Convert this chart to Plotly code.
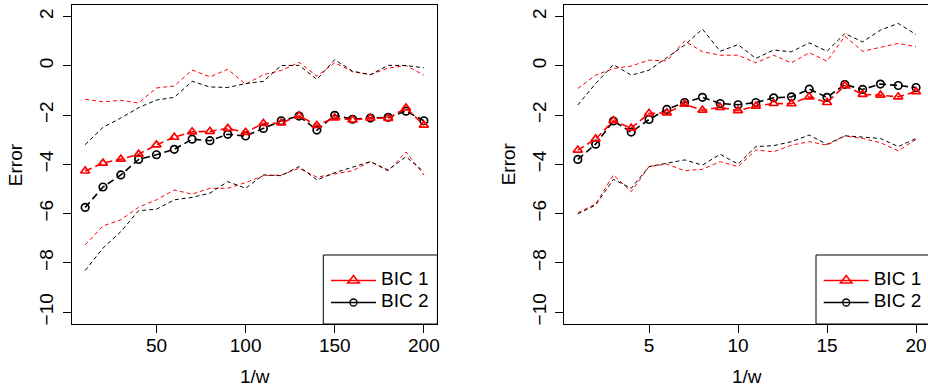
import plotly.graph_objects as go

# ---------------- data ----------------
x_left = [10, 20, 30, 40, 50, 60, 70, 80, 90, 100,
          110, 120, 130, 140, 150, 160, 170, 180, 190, 200]
bic1_left = [-4.27, -3.95, -3.79, -3.59, -3.21, -2.90, -2.68, -2.66, -2.54, -2.70,
             -2.34, -2.32, -2.03, -2.42, -2.11, -2.20, -2.12, -2.13, -1.71, -2.41]
bic2_left = [-5.75, -4.92, -4.43, -3.80, -3.61, -3.39, -2.98, -3.04, -2.78, -2.85,
             -2.54, -2.23, -2.04, -2.61, -2.01, -2.17, -2.12, -2.09, -1.84, -2.23]
bic1_left_hi = [-1.36, -1.46, -1.40, -1.51, -0.90, -0.82, -0.17, -0.45, -0.14, -0.75,
                -0.36, -0.19, 0.14, -0.42, 0.13, -0.24, -0.36, -0.09, 0.01, -0.38]
bic2_left_hi = [-3.20, -2.50, -2.12, -1.70, -1.39, -1.28, -0.63, -0.86, -0.88, -0.72,
                -0.63, 0.01, 0.02, -0.55, 0.25, -0.22, -0.36, 0.02, 0.01, -0.08]
bic1_left_lo = [-7.27, -6.50, -6.25, -5.74, -5.44, -5.04, -5.21, -4.97, -4.97, -4.74,
                -4.46, -4.43, -4.16, -4.52, -4.39, -4.26, -3.89, -4.27, -3.50, -4.43]
bic2_left_lo = [-8.31, -7.40, -6.73, -5.88, -5.82, -5.44, -5.34, -5.17, -4.70, -4.97,
                -4.43, -4.46, -4.09, -4.63, -4.34, -4.13, -3.89, -4.23, -3.69, -4.30]

x_right = list(range(1, 21))
bic1_right = [-3.42, -2.97, -2.23, -2.53, -1.93, -1.91, -1.56, -1.80, -1.69, -1.82,
              -1.64, -1.53, -1.54, -1.26, -1.49, -0.81, -1.16, -1.19, -1.26, -1.05]
bic2_right = [-3.80, -3.18, -2.24, -2.69, -2.18, -1.77, -1.49, -1.28, -1.53, -1.58,
              -1.49, -1.30, -1.26, -0.95, -1.28, -0.76, -0.96, -0.74, -0.80, -0.88]
bic1_right_hi = [-0.92, -0.38, -0.11, -0.01, 0.23, 0.20, 1.01, 0.57, 0.43, 0.43,
                 0.12, 0.43, 0.12, 0.53, 0.19, 1.20, 0.59, 0.74, 0.91, 0.77]
bic2_right_hi = [-1.59, -0.72, 0.05, -0.38, -0.18, 0.34, 0.84, 1.49, 0.59, 0.86,
                 0.30, 0.64, 0.57, 0.93, 0.59, 1.31, 0.97, 1.45, 1.72, 1.27]
bic1_right_lo = [-5.96, -5.61, -4.43, -5.11, -4.09, -3.99, -4.26, -4.20, -3.89, -4.09,
                 -3.42, -3.49, -3.22, -3.08, -3.22, -2.85, -2.95, -3.12, -3.45, -2.99]
bic2_right_lo = [-6.01, -5.65, -4.61, -4.97, -4.09, -3.96, -3.82, -4.03, -3.59, -3.99,
                 -3.28, -3.24, -3.08, -2.81, -3.19, -2.84, -2.91, -2.95, -3.28, -2.95]

series_names = ["BIC 1", "BIC 2"]
y_ticks = [-10, -8, -6, -4, -2, 0, 2]
x_ticks_left = [50, 100, 150, 200]
x_ticks_right = [5, 10, 15, 20]
x_title = "1/w"
y_title = "Error"

# ---------------- styling ----------------
W, H = 928, 388
RED, BLACK = "#FF0000", "#000000"
FONT = "Liberation Sans, Arial, Helvetica, sans-serif"
FS = 19

fig = go.Figure()


def add_panel(xs, b1, b2, b1hi, b2hi, b1lo, b2lo, xa, ya, legend):
    for ys, col in [(b1hi, RED), (b2hi, BLACK), (b1lo, RED), (b2lo, BLACK)]:
        fig.add_trace(go.Scatter(x=xs, y=ys, mode="lines", xaxis=xa, yaxis=ya,
                                 line=dict(color=col, width=1, dash="4px,3px"),
                                 showlegend=False, hoverinfo="skip"))
    fig.add_trace(go.Scatter(x=xs, y=b2, mode="lines+markers", xaxis=xa, yaxis=ya,
                             line=dict(color=BLACK, width=1.6, dash="7px,4px"),
                             marker=dict(symbol="circle-open", size=7.5, color=BLACK,
                                         line=dict(width=1.7, color=BLACK)),
                             showlegend=False))
    fig.add_trace(go.Scatter(x=xs, y=b1, mode="lines+markers", xaxis=xa, yaxis=ya,
                             line=dict(color=RED, width=1.6, dash="7px,4px"),
                             marker=dict(symbol="triangle-up-open", size=8, color=RED,
                                         line=dict(width=1.7, color=RED)),
                             showlegend=False))
    # legend entries (solid line samples as in the original legend)
    big = '<span style="font-size:%dpx">%s</span>'
    fig.add_trace(go.Scatter(x=[None], y=[None], mode="lines+markers", xaxis=xa, yaxis=ya,
                             name=big % (FS, series_names[0]), legend=legend,
                             legendgroup=legend + "a",
                             line=dict(color=RED, width=1.4),
                             marker=dict(symbol="triangle-up-open", size=10, color=RED,
                                         line=dict(width=1.6, color=RED))))
    fig.add_trace(go.Scatter(x=[None], y=[None], mode="lines+markers", xaxis=xa, yaxis=ya,
                             name=big % (FS, series_names[1]), legend=legend,
                             legendgroup=legend + "b",
                             line=dict(color=BLACK, width=1.4),
                             marker=dict(symbol="circle-open", size=7, color=BLACK,
                                         line=dict(width=1.3, color=BLACK))))


add_panel(x_left, bic1_left, bic2_left, bic1_left_hi, bic2_left_hi,
          bic1_left_lo, bic2_left_lo, "x", "y", "legend")
add_panel(x_right, bic1_right, bic2_right, bic1_right_hi, bic2_right_hi,
          bic1_right_lo, bic2_right_lo, "x2", "y2", "legend2")

# pixel geometry of the two plotting boxes
L1, R1 = 71.6, 437.4
L2, R2 = 564.3, 928.0
R2_full = 929.5
T, B = 4.7, 324.0
ydom = [1 - B / H, 1 - T / H]
xr_left = [2.4, 207.6]
px_per_unit_right = (916.0 - 649.0) / 15.0
xr_right = [0.24, 0.24 + (R2 - L2) / px_per_unit_right]

axis_common = dict(showgrid=False, zeroline=False, showline=True, linecolor=BLACK,
                   linewidth=1, ticks="outside", ticklen=8, tickwidth=1,
                   tickcolor=BLACK, automargin=False,
                   tickfont=dict(family=FONT, size=FS, color=BLACK))

legend_common = dict(xanchor="left", yanchor="top", bgcolor="rgba(0,0,0,0)",
                     borderwidth=0, tracegroupgap=3, itemwidth=45,
                     font=dict(family=FONT, size=12, color=BLACK))

fig.update_layout(
    width=W, height=H,
    margin=dict(l=0, r=0, t=0, b=0),
    paper_bgcolor="white", plot_bgcolor="white",
    font=dict(family=FONT, size=FS, color=BLACK),
    xaxis=dict(domain=[L1 / W, R1 / W], range=xr_left, anchor="y",
               tickvals=x_ticks_left, mirror=True, ticklabelstandoff=-4, **axis_common),
    yaxis=dict(domain=ydom, range=[-10.48, 2.48], anchor="x",
               tickvals=y_ticks, tickangle=-90, mirror=True, ticklabelstandoff=2,
               **axis_common),
    xaxis2=dict(domain=[L2 / W, R2 / W], range=xr_right, anchor="y2",
                tickvals=x_ticks_right, mirror=True, ticklabelstandoff=-4, **axis_common),
    yaxis2=dict(domain=ydom, range=[-10.48, 2.48], anchor="x2",
                tickvals=y_ticks, tickangle=-90, mirror=False, ticklabelstandoff=2,
                **axis_common),
    legend=dict(x=326 / W, y=1 - 266 / H, **legend_common),
    legend2=dict(x=(326 + 816 - 323.3) / W, y=1 - 266 / H, **legend_common),
    showlegend=True,
)

# axis titles
for cx in [(L1 + R1) / 2, (L2 + R2_full) / 2]:
    fig.add_annotation(text=x_title, xref="paper", yref="paper", x=cx / W,
                       y=1 - 376 / H, xanchor="center", yanchor="middle",
                       showarrow=False, font=dict(family=FONT, size=FS, color=BLACK))
for cx in [15.8, 508.0]:
    fig.add_annotation(text=y_title, xref="paper", yref="paper", x=cx / W,
                       y=1 - (T + B) / 2 / H, xanchor="center", yanchor="middle",
                       textangle=-90, showarrow=False,
                       font=dict(family=FONT, size=FS, color=BLACK))

# legend frames
fig.add_shape(type="rect", xref="paper", yref="paper",
              x0=323.3 / W, x1=R1 / W, y0=1 - B / H, y1=1 - 255 / H,
              line=dict(color=BLACK, width=1), fillcolor="white", layer="below")
fig.add_shape(type="rect", xref="paper", yref="paper",
              x0=816 / W, x1=(W + 5) / W, y0=1 - B / H, y1=1 - 255 / H,
              line=dict(color=BLACK, width=1), fillcolor="white", layer="below")

# remove the default 8px page margin so the figure starts at the window corner
fig.write_html("out.html",
               config={"displayModeBar": False},
               post_script="document.body.style.margin='0px';"
                           "document.body.style.padding='0px';"
                           "document.body.style.overflow='hidden';")
